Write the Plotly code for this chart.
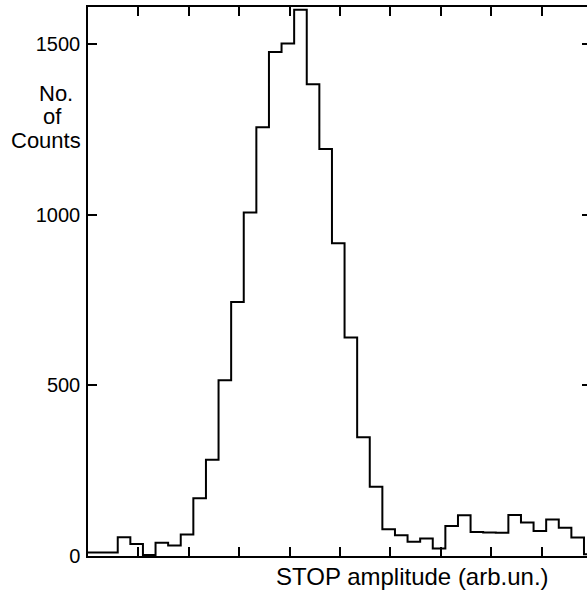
import plotly.graph_objects as go

# Histogram of STOP amplitude: counts per channel (bin width = 1 channel)
counts = [10, 10, 10,
          55, 35, 3, 39, 31, 63, 169, 282, 515, 744,
          1006, 1256, 1476, 1501, 1600, 1382, 1192, 916, 640, 348,
          203, 78, 61, 42, 51, 22, 88, 119, 70, 69,
          68, 120, 98, 73, 107, 83, 54, 5]
channels = list(range(len(counts) + 1))   # bin edges
y_ticks = [0, 500, 1000, 1500]

x_vals = channels
y_vals = counts + [counts[-1]]

FONT = "Liberation Sans"

fig = go.Figure()
fig.add_trace(go.Scatter(
    x=x_vals, y=y_vals, mode="lines", line=dict(shape="hv", color="black", width=2),
    hoverinfo="skip", showlegend=False))
fig.add_trace(go.Scatter(
    x=x_vals, y=y_vals, mode="lines", line=dict(shape="hv", color="rgba(0,0,0,0)", width=0),
    yaxis="y2", hoverinfo="skip", showlegend=False))

x0 = 0.64
fig.update_layout(
    width=587, height=592,
    margin=dict(l=87.5, r=0, t=7, b=35.5),
    paper_bgcolor="white", plot_bgcolor="white",
    font=dict(family=FONT, color="black", size=20),
    xaxis=dict(range=[x0, x0 + 9.90 * 4], tickmode="linear", tick0=x0, dtick=4,
               ticks="inside", ticklen=9, tickwidth=1.5, tickcolor="black",
               showticklabels=False, showline=True, linewidth=1.5, linecolor="black",
               mirror="ticks", showgrid=False, zeroline=False),
    yaxis=dict(range=[0, 1608], tickmode="array", tickvals=y_ticks,
               ticktext=[str(v) for v in y_ticks],
               ticks="inside", ticklen=9, tickwidth=1.5, tickcolor="black",
               tickfont=dict(size=20, family=FONT), ticklabelstandoff=2,
               showline=True, linewidth=1.5, linecolor="black",
               showgrid=False, zeroline=False),
    yaxis2=dict(range=[0, 1608], overlaying="y", side="right", tickmode="array",
                tickvals=y_ticks, ticks="inside", ticklen=5, tickwidth=1.5,
                tickcolor="black", showticklabels=False, showline=False,
                showgrid=False, zeroline=False),
)

ann_font = dict(family=FONT, size=22, color="black")
for txt, xp, yp in [("No.", 55, 94), ("of", 52, 117), ("Counts", 45, 141)]:
    fig.add_annotation(text=txt, xref="paper", yref="paper",
                       x=(xp - 87.5) / 499.5, y=1 - (yp - 7) / 549.5,
                       xanchor="center", yanchor="middle", showarrow=False, font=ann_font)

fig.add_annotation(text="STOP amplitude (arb.un.)", xref="paper", yref="paper",
                   x=(412 - 87.5) / 499.5, y=1 - (577 - 7) / 549.5,
                   xanchor="center", yanchor="middle", showarrow=False,
                   font=dict(family=FONT, size=24, color="black"))

fig.write_html("out.html")
